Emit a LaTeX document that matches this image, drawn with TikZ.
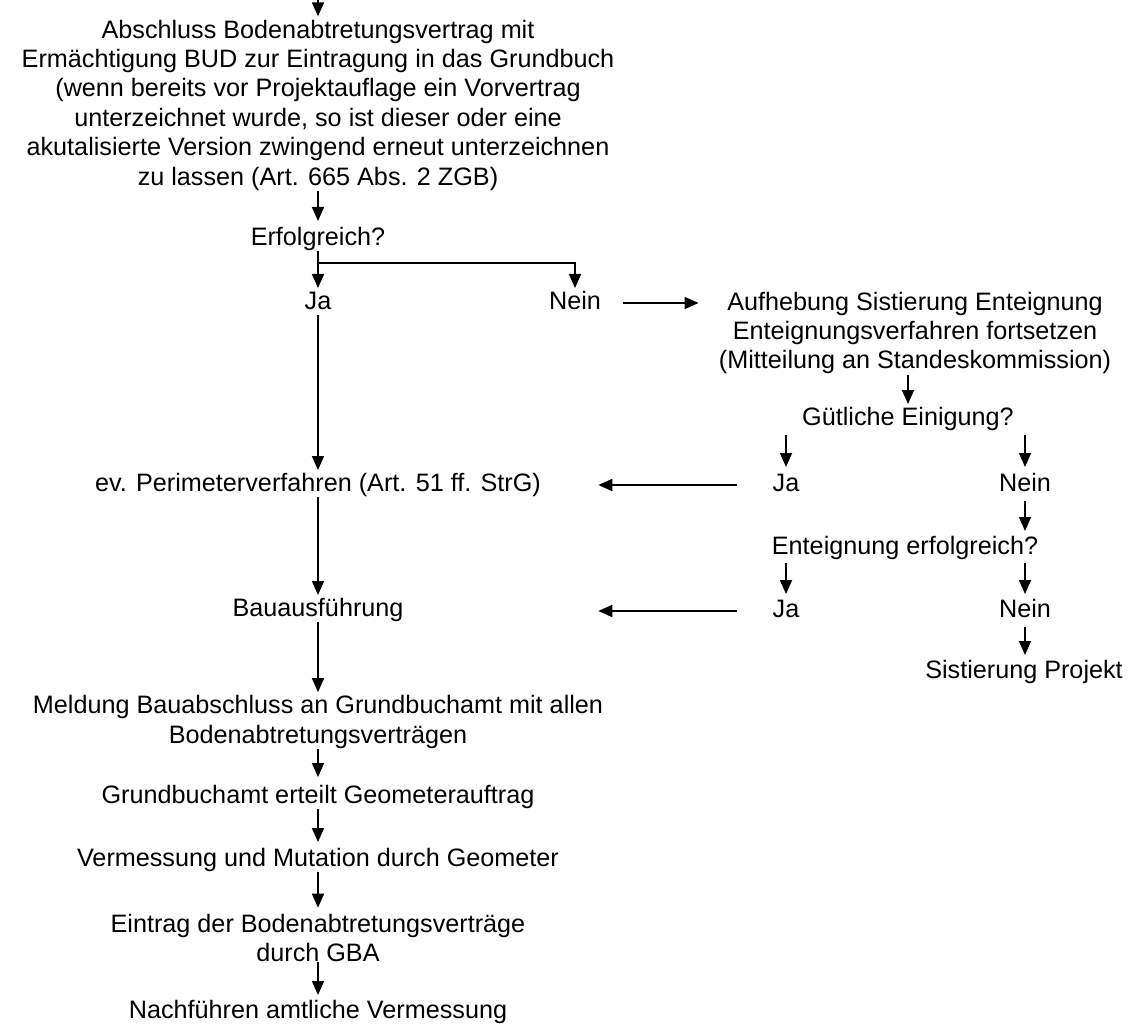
\documentclass[tikz,border=0pt]{standalone}
\usepackage{fontspec}
\setmainfont{Liberation Sans}
\usetikzlibrary{arrows.meta}

\begin{document}
\begin{tikzpicture}[x=0.5pt, y=-0.5pt,
    every node/.style={font=\fontsize{12.6}{14.7}\selectfont, inner sep=0pt, align=center},
    lbl/.style={text height=9pt, text depth=2.6pt},
    edge/.style={-{Triangle[length=7pt, width=6pt]}, line width=0.85pt, shorten >=1.5pt}]
  \useasboundingbox (0,0) rectangle (1128,1026);

  \coordinate (entry) at (318,0);
  \node (vertrag) at (318,105) {Abschluss Bodenabtretungsvertrag mit\\Ermächtigung BUD zur Eintragung in das Grundbuch\\(wenn bereits vor Projektauflage ein Vorvertrag\\unterzeichnet wurde, so ist dieser oder eine\\akutalisierte Version zwingend erneut unterzeichnen\\zu lassen (Art. 665 Abs. 2 ZGB)};
  \node[lbl] (erfolg) at (318,239) {Erfolgreich?};
  \node[lbl] (ja1) at (318,303) {Ja};
  \node[lbl] (nein1) at (575,303) {Nein};
  \node (aufheb) at (915,333) {Aufhebung Sistierung Enteignung\\Enteignungsverfahren fortsetzen\\(Mitteilung an Standeskommission)};
  \node[lbl] (guetlich) at (908,419) {Gütliche Einigung?};
  \node[lbl] (ja2) at (786,485) {Ja};
  \node[lbl] (nein2) at (1025,485) {Nein};
  \node[lbl] (enteig) at (905,548) {Enteignung erfolgreich?};
  \node[lbl] (ja3) at (786,611) {Ja};
  \node[lbl] (nein3) at (1025,611) {Nein};
  \node[lbl] (sistierung) at (1024,672) {Sistierung Projekt};

  \node[lbl] (perim) at (318,485) {ev. Perimeterverfahren (Art. 51 ff. StrG)};
  \node[lbl] (bau) at (318,610) {Bauausführung};
  \node (meldung) at (318,722) {Meldung Bauabschluss an Grundbuchamt mit allen\\Bodenabtretungsverträgen};
  \node[lbl] (gba) at (318,797) {Grundbuchamt erteilt Geometerauftrag};
  \node[lbl] (vermessung) at (318,860) {Vermessung und Mutation durch Geometer};
  \node (eintrag) at (318,938) {Eintrag der Bodenabtretungsverträge\\durch GBA};
  \node[lbl] (nachf) at (318,1012) {Nachführen amtliche Vermessung};

  % Hauptstrang
  \draw[edge] (entry) -- (vertrag.north);
  \draw[edge, shorten >=3pt] (vertrag.south) -- (erfolg.north);
  \draw[edge] (erfolg.south) -- (ja1.north);
  \draw[edge] ([yshift=-6pt]erfolg.south) -| (nein1.north);
  \draw[edge] (ja1.south) -- (perim.north);
  \draw[edge] (perim.south) -- (bau.north);
  \draw[edge] (bau.south) -- (meldung.north);
  \draw[edge, shorten >=4pt] (meldung.south) -- (gba.north);
  \draw[edge, shorten >=3pt] (gba.south) -- (vermessung.north);
  \draw[edge, shorten >=3pt] (vermessung.south) -- (eintrag.north);
  \draw[edge, shorten >=2.5pt] (eintrag.south) -- (nachf.north);

  % Enteignung
  \draw[edge, shorten <=11pt, shorten >=10pt] (nein1.east) -- (nein1.east -| aufheb.west);
  \draw[edge] (aufheb.south -| guetlich.north) -- (guetlich.north);
  \draw[edge, shorten <=2pt, shorten >=3pt] (guetlich.south -| ja2.north) -- (ja2.north);
  \draw[edge, shorten <=2pt, shorten >=3pt] (guetlich.south -| nein2.north) -- (nein2.north);
  \draw[edge, shorten <=17.5pt, shorten >=28.5pt] (ja2.west) -- (perim.east);
  \draw[edge, shorten <=2pt, shorten >=2.5pt] (nein2.south) -- (nein2.south |- enteig.north);
  \draw[edge, shorten <=1.5pt, shorten >=2.5pt] (enteig.south -| ja3.north) -- (ja3.north);
  \draw[edge, shorten <=1.5pt, shorten >=2.5pt] (enteig.south -| nein3.north) -- (nein3.north);
  \draw[edge, shorten <=17.5pt, shorten >=28.5pt] (ja3.west) -- (perim.east |- ja3.west);
  \draw[edge, shorten <=2pt, shorten >=2.5pt] (nein3.south) -- (nein3.south |- sistierung.north);
\end{tikzpicture}
\end{document}
